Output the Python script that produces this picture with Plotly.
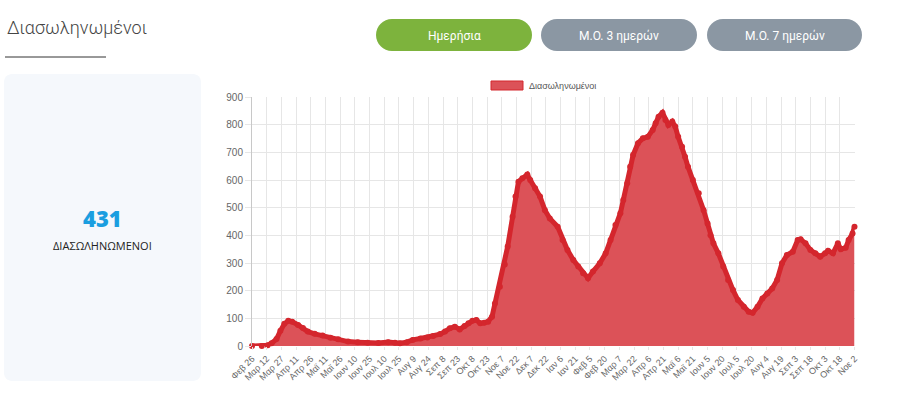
import plotly.graph_objects as go
import pandas as pd

W, H = 900, 394

# ---- data ----
dates = [
    "2020-02-26", "2020-03-07", "2020-03-13", "2020-03-17", "2020-03-22", "2020-03-26",
    "2020-03-30", "2020-04-03", "2020-04-07", "2020-04-13", "2020-04-18", "2020-04-23",
    "2020-04-30", "2020-05-08", "2020-05-16", "2020-05-24", "2020-06-03", "2020-06-13",
    "2020-06-23", "2020-07-04", "2020-07-14", "2020-07-21", "2020-07-26", "2020-08-02",
    "2020-08-08", "2020-08-16", "2020-08-23", "2020-08-29", "2020-09-05", "2020-09-10",
    "2020-09-15", "2020-09-20", "2020-09-25", "2020-09-30", "2020-10-04", "2020-10-08",
    "2020-10-12", "2020-10-16", "2020-10-20", "2020-10-24", "2020-10-28", "2020-10-31",
    "2020-11-05", "2020-11-10", "2020-11-13", "2020-11-18", "2020-11-21", "2020-11-24",
    "2020-11-28", "2020-12-03", "2020-12-06", "2020-12-11", "2020-12-16", "2020-12-21",
    "2020-12-26", "2021-01-03", "2021-01-08", "2021-01-13", "2021-01-19", "2021-01-24",
    "2021-01-29", "2021-02-03", "2021-02-08", "2021-02-15", "2021-02-21", "2021-02-26",
    "2021-03-03", "2021-03-08", "2021-03-11", "2021-03-15", "2021-03-18", "2021-03-21",
    "2021-03-26", "2021-03-31", "2021-04-05", "2021-04-10", "2021-04-13", "2021-04-16",
    "2021-04-20", "2021-04-23", "2021-04-26", "2021-04-30", "2021-05-03", "2021-05-06",
    "2021-05-10", "2021-05-13", "2021-05-16", "2021-05-21", "2021-05-27", "2021-06-01",
    "2021-06-05", "2021-06-08", "2021-06-11", "2021-06-16", "2021-06-21", "2021-06-26",
    "2021-07-01", "2021-07-06", "2021-07-12", "2021-07-17", "2021-07-21", "2021-07-26",
    "2021-07-31", "2021-08-05", "2021-08-10", "2021-08-15", "2021-08-20", "2021-08-25",
    "2021-08-31", "2021-09-05", "2021-09-08", "2021-09-13", "2021-09-18", "2021-09-23",
    "2021-09-28", "2021-10-03", "2021-10-06", "2021-10-11", "2021-10-16", "2021-10-19",
    "2021-10-24", "2021-10-27", "2021-10-31", "2021-11-02",
]
values = [
    0, 0, 3, 10, 25, 55,
    80, 91, 88, 76, 65, 52,
    44, 38, 30, 24, 16, 14,
    12, 11, 14, 12, 10, 14,
    22, 27, 31, 36, 43, 52,
    64, 70, 60, 72, 82, 91,
    94, 82, 84, 88, 106, 154,
    214, 295, 360, 467, 540, 594,
    606, 620, 600, 570, 540, 491,
    461, 431, 383, 347, 311, 287,
    263, 245, 269, 299, 335, 383,
    437, 480, 528, 588, 648, 690,
    733, 751, 756, 781, 805, 829,
    843, 817, 799, 811, 793, 756,
    720, 684, 648, 600, 552, 491,
    443, 400, 371, 335, 287, 239,
    202, 166, 142, 124, 120, 142,
    172, 190, 208, 239, 299, 329,
    341, 383, 386, 371, 347, 335,
    323, 335, 344, 335, 371, 350,
    355, 383, 407, 431,
]
tick_labels = [
    "Φεβ 26", "Μαρ 12", "Μαρ 27", "Απρ 11", "Απρ 26", "Μαϊ 11", "Μαϊ 26",
    "Ιουν 10", "Ιουν 25", "Ιουλ 10", "Ιουλ 25", "Αυγ 9", "Αυγ 24", "Σεπ 8",
    "Σεπ 23", "Οκτ 8", "Οκτ 23", "Νοε 7", "Νοε 22", "Δεκ 7", "Δεκ 22",
    "Ιαν 6", "Ιαν 21", "Φεβ 5", "Φεβ 20", "Μαρ 7", "Μαρ 22", "Απρ 6",
    "Απρ 21", "Μαϊ 6", "Μαϊ 21", "Ιουν 5", "Ιουν 20", "Ιουλ 5", "Ιουλ 20",
    "Αυγ 4", "Αυγ 19", "Σεπ 3", "Σεπ 18", "Οκτ 3", "Οκτ 18", "Νοε 2",
]
y_ticks = [0, 100, 200, 300, 400, 500, 600, 700, 800, 900]
series_name = "Διασωληνωμένοι"
page_title = "Διασωληνωμένοι"
buttons = ["Ημερήσια", "Μ.Ο. 3 ημερών", "Μ.Ο. 7 ημερών"]
current_value = "431"
current_label = "ΔΙΑΣΩΛΗΝΩΜΕΝΟΙ"

tick_dates = pd.date_range(dates[0], periods=len(tick_labels), freq="15D")

FILL = "#dc5258"
LINE = "#d4262d"
GRID = "#e6e6e6"


def PX(x):
    return x / W


def PY(y):
    return 1 - y / H


def rrect(x0, y0, x1, y1, r):
    k = 0.5523 * r
    segs = [
        ("M", [(x0 + r, y0)]),
        ("L", [(x1 - r, y0)]),
        ("C", [(x1 - r + k, y0), (x1, y0 + r - k), (x1, y0 + r)]),
        ("L", [(x1, y1 - r)]),
        ("C", [(x1, y1 - r + k), (x1 - r + k, y1), (x1 - r, y1)]),
        ("L", [(x0 + r, y1)]),
        ("C", [(x0 + r - k, y1), (x0, y1 - r + k), (x0, y1 - r)]),
        ("L", [(x0, y0 + r)]),
        ("C", [(x0, y0 + r - k), (x0 + r - k, y0), (x0 + r, y0)]),
    ]
    out = []
    for cmd, pts in segs:
        out.append(cmd + " " + " ".join(f"{PX(a):.5f},{PY(b):.5f}" for a, b in pts))
    return " ".join(out) + " Z"


fig = go.Figure()
fig.add_trace(go.Scatter(
    x=dates, y=values, name=series_name,
    mode="lines+markers", fill="tozeroy", fillcolor=FILL,
    line=dict(color=LINE, width=5),
    marker=dict(size=6, color=LINE),
    cliponaxis=False, showlegend=False, hoverinfo="skip",
))

shapes = [
    dict(type="path", path=rrect(4, 74, 201, 381, 8), xref="paper", yref="paper",
         fillcolor="#f5f8fc", line=dict(width=0), layer="below"),
    dict(type="line", x0=PX(5), x1=PX(106), y0=PY(57), y1=PY(57), xref="paper", yref="paper",
         line=dict(color="#333333", width=1)),
    dict(type="path", path=rrect(376, 19, 532, 51, 16), xref="paper", yref="paper",
         fillcolor="#7db33d", line=dict(width=0)),
    dict(type="path", path=rrect(541, 19, 697, 51, 16), xref="paper", yref="paper",
         fillcolor="#8b97a3", line=dict(width=0)),
    dict(type="path", path=rrect(707, 19, 862, 51, 16), xref="paper", yref="paper",
         fillcolor="#8b97a3", line=dict(width=0)),
    dict(type="rect", x0=PX(491), x1=PX(523), y0=PY(81), y1=PY(90), xref="paper", yref="paper",
         fillcolor=FILL, line=dict(color=LINE, width=1)),
]

annotations = [
    dict(text=page_title, x=PX(5), y=PY(27), xanchor="left", yanchor="middle",
         font=dict(family="Roboto", size=18, weight=300, color="#444444")),
    dict(text=current_value, x=PX(102), y=PY(218), xanchor="center", yanchor="middle",
         font=dict(family="Open Sans", size=22, weight=800, color="#1a9ee0")),
    dict(text=current_label, x=PX(102), y=PY(245), xanchor="center", yanchor="middle",
         font=dict(family="Open Sans", size=11, color="#222222")),
    dict(text=series_name, x=PX(527), y=PY(85.5), xanchor="left", yanchor="middle",
         font=dict(family="Liberation Sans", size=9, color="#555555")),
]
for label, cx in zip(buttons, [454, 619, 784.5]):
    annotations.append(dict(text=label, x=PX(cx), y=PY(35.5), xanchor="center", yanchor="middle",
                            font=dict(family="Roboto", size=12, color="#ffffff")))
for a in annotations:
    a.update(xref="paper", yref="paper", showarrow=False)

fig.update_layout(
    template="none",
    width=W, height=H, margin=dict(l=0, r=0, t=0, b=0, pad=0, autoexpand=False),
    autosize=False,
    paper_bgcolor="#ffffff", plot_bgcolor="#ffffff",
    shapes=shapes, annotations=annotations, showlegend=False,
    xaxis=dict(
        domain=[PX(252), PX(854.5)], type="date", automargin=False,
        range=[dates[0], dates[-1]],
        tickmode="array", tickvals=tick_dates, ticktext=tick_labels,
        tickangle=-45, tickfont=dict(family="Liberation Sans", size=9, color="#666666"),
        showgrid=True, gridcolor=GRID, gridwidth=1,
        ticks="outside", ticklen=3, tickcolor=GRID,
        showline=False, zeroline=False, fixedrange=True,
    ),
    yaxis=dict(
        domain=[1 - 346 / H, 1 - 97 / H], range=[0, 900], automargin=False,
        tickmode="array", tickvals=y_ticks,
        tickfont=dict(family="Liberation Sans", size=10, color="#666666"),
        showgrid=True, gridcolor=GRID, gridwidth=1,
        ticks="outside", ticklen=6, tickcolor=GRID,
        showline=True, linecolor="#c8c8c8", linewidth=1,
        zeroline=False, fixedrange=True,
    ),
)

fig.write_html("out.html", config={"responsive": False, "displayModeBar": False})
